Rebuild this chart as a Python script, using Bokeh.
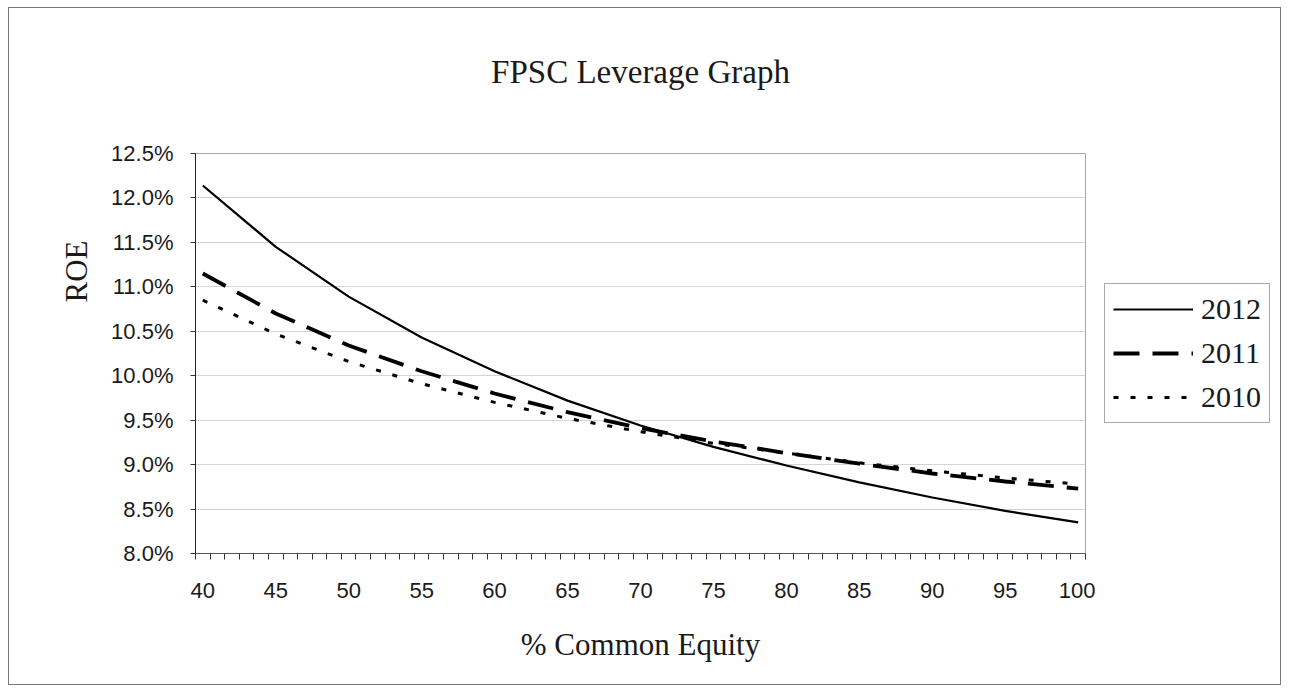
from bokeh.plotting import figure
from bokeh.layouts import row
from bokeh.models import (FixedTicker, PrintfTickFormatter, Legend, LegendItem,
                          Range1d, Title)
from bokeh.embed import file_html
from bokeh.resources import INLINE

# ---- data ----
equity = [40, 45, 50, 55, 60, 65, 70, 75, 80, 85, 90, 95, 100]
roe_2012 = [12.14, 11.45, 10.89, 10.43, 10.05, 9.72, 9.44, 9.20, 8.99, 8.80, 8.63, 8.48, 8.35]
roe_2011 = [11.15, 10.70, 10.34, 10.05, 9.80, 9.59, 9.41, 9.26, 9.13, 9.01, 8.90, 8.81, 8.73]
roe_2010 = [10.85, 10.47, 10.16, 9.91, 9.70, 9.52, 9.37, 9.24, 9.13, 9.02, 8.93, 8.85, 8.78]
x_tick_labels = [40, 45, 50, 55, 60, 65, 70, 75, 80, 85, 90, 95, 100]
y_ticks = [8.0, 8.5, 9.0, 9.5, 10.0, 10.5, 11.0, 11.5, 12.0, 12.5]
series_names = ["2012", "2011", "2010"]

SERIF = "Liberation Serif"
SANS = "Liberation Sans"

styles = [dict(line_color="black", line_width=2.2),
          dict(line_color="black", line_width=3.8, line_dash="26 13"),
          dict(line_color="black", line_width=3, line_dash="5 12")]
series = [roe_2012, roe_2011, roe_2010]

p = figure(width=1086, height=676, output_backend="svg", toolbar_location=None,
           x_range=Range1d(39.5, 100.5), y_range=Range1d(8.0, 12.5),
           min_border_left=186, min_border_top=145, min_border_right=10,
           min_border_bottom=131)

# built-in title left empty; spacer + real title stacked above the frame
p.title.text = ""
p.title.standoff = 0
p.title.text_font_size = "1px"
spacer = Title(text=" ", text_font_size="1px", standoff=19)
p.add_layout(spacer, "above")
main_title = Title(text="FPSC Leverage Graph", text_font=SERIF,
                   text_font_size="33px", text_font_style="normal",
                   text_color="#1a1a1a", align="center", standoff=84)
p.add_layout(main_title, "above")

# frame
p.outline_line_color = "#a8a8a8"
p.outline_line_width = 1
p.background_fill_color = "white"
p.border_fill_color = "white"

# grid
p.xgrid.grid_line_color = None
p.ygrid.grid_line_color = "#d4d4d4"
p.ygrid.grid_line_width = 1

# x axis
minor = [v + 0.5 for v in range(39, 101)]
p.xaxis.ticker = FixedTicker(ticks=x_tick_labels, minor_ticks=minor)
p.xaxis.major_tick_out = 0
p.xaxis.major_tick_in = 0
p.xaxis.minor_tick_out = 6
p.xaxis.minor_tick_in = 0
p.xaxis.minor_tick_line_color = "#333333"
p.xaxis.axis_line_color = "#555555"
p.xaxis.major_label_text_font = SANS
p.xaxis.major_label_text_font_size = "22px"
p.xaxis.major_label_text_color = "#1a1a1a"
p.xaxis.major_label_standoff = 23
p.xaxis.axis_label = "% Common Equity"
p.xaxis.axis_label_text_font = SERIF
p.xaxis.axis_label_text_font_size = "31px"
p.xaxis.axis_label_text_font_style = "normal"
p.xaxis.axis_label_text_color = "#1a1a1a"
p.xaxis.axis_label_standoff = 26

# y axis
p.yaxis.ticker = FixedTicker(ticks=y_ticks, minor_ticks=[])
p.yaxis.formatter = PrintfTickFormatter(format="%.1f%%")
p.yaxis.major_tick_out = 5
p.yaxis.major_tick_in = 0
p.yaxis.major_tick_line_color = "#333333"
p.yaxis.axis_line_color = "#222222"
p.yaxis.major_label_text_font = SANS
p.yaxis.major_label_text_font_size = "22px"
p.yaxis.major_label_text_color = "#1a1a1a"
p.yaxis.major_label_standoff = 17

ytitle = Title(text="ROE", text_font=SERIF, text_font_size="31px",
               text_font_style="normal", text_color="#1a1a1a",
               align="right", offset=87, standoff=30)
p.add_layout(ytitle, "left")

for vals, st in zip(series, styles):
    p.line(equity, vals, **st)

# legend panel (second figure to the right of the plot area)
q = figure(width=185, height=676, output_backend="svg", toolbar_location=None,
           x_range=Range1d(0, 1), y_range=Range1d(0, 1),
           x_axis_location=None, y_axis_location=None, min_border=0)
q.outline_line_color = None
q.grid.grid_line_color = None
q.background_fill_color = "white"
q.border_fill_color = "white"
items = []
for name, vals, st in zip(series_names, series, styles):
    r = q.line(equity, vals, **st)
    items.append(LegendItem(label=name, renderers=[r]))

legend = Legend(items=items, location=(9, 130))
legend.label_text_font = SERIF
legend.label_text_font_size = "30px"
legend.label_text_color = "#1a1a1a"
legend.glyph_width = 80
legend.glyph_height = 30
legend.label_height = 30
legend.label_standoff = 8
legend.spacing = 10
legend.padding = 8
legend.margin = 0
legend.border_line_color = "#555555"
legend.border_line_width = 1
legend.background_fill_color = "white"
legend.background_fill_alpha = 1
q.add_layout(legend)

layout = row(p, q, spacing=0)
layout.styles = {"border": "1px solid #777777", "margin": "7px 0px 0px 8px",
                 "background-color": "white"}

open("out.html", "w").write(file_html(layout, INLINE))
